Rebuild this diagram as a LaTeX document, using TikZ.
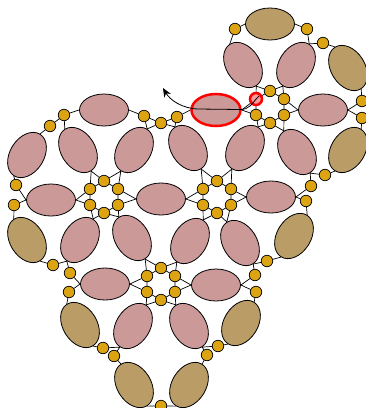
\documentclass[tikz,border=0pt]{standalone}
\usetikzlibrary{arrows.meta,shapes.geometric}
\definecolor{beadc}{RGB}{220,164,18}
\definecolor{pinkc}{RGB}{204,153,153}
\definecolor{tanc}{RGB}{185,156,102}
\tikzset{
 bead/.style={circle,draw=black,line width=0.7pt,fill=beadc,minimum size=11.5pt,inner sep=0pt},
 pel/.style={ellipse,draw=black,line width=0.8pt,fill=pinkc,minimum width=49pt,minimum height=32pt,inner sep=0pt},
 tel/.style={pel,fill=tanc},
 thread/.style={line width=0.7pt},
 fw/.style={rotate=58,minimum height=34pt}, bw/.style={rotate=-58,minimum height=34pt}
}
\newcommand\rosette[3]{%
 \node[bead] (#1t) at (#2,#3-16) {};
 \node[bead] (#1ur) at (#2+14,#3-8) {};
 \node[bead] (#1lr) at (#2+14,#3+8) {};
 \node[bead] (#1b) at (#2,#3+16) {};
 \node[bead] (#1ll) at (#2-14,#3+8) {};
 \node[bead] (#1ul) at (#2-14,#3-8) {};
 \draw[thread] (#1t)--(#1ur)--(#1lr)--(#1b)--(#1ll)--(#1ul)--(#1t);
}
\newcommand\rconn[7]{%
 \draw[thread] (#2.east)--(#1ul) (#2.east)--(#1ll)
  (#3.west)--(#1ur) (#3.west)--(#1lr)
  (#4.east)--(#1t) (#4.east)--(#1ul)
  (#5.west)--(#1t) (#5.west)--(#1ur)
  (#6.east)--(#1ll) (#6.east)--(#1b)
  (#7.west)--(#1lr) (#7.west)--(#1b);
}
\newcommand\pconn[3]{\draw[thread] (#1)--(#2) (#1)--(#3);}
\begin{document}
\begin{tikzpicture}[x=1pt,y=-1pt]
\useasboundingbox (0,0) rectangle (366,408);
\clip (0,0) rectangle (366,408);
% pink ellipses
\node[pel] (P1) at (104,110) {};
\node[pel,draw=red,line width=2.5pt] (P2) at (216,110) {};
\node[pel] (P3) at (323,110) {};
\node[pel,bw] (P4) at (243,65) {};
\node[pel,fw] (P5) at (296,65) {};
\node[pel,fw] (P6) at (27,155) {};
\node[pel,bw] (P7) at (78,150) {};
\node[pel,fw] (P8) at (134,150) {};
\node[pel,bw] (P9) at (188,148) {};
\node[pel,fw] (P10) at (245,148) {};
\node[pel,bw] (P11) at (297,152) {};
\node[pel] (P12) at (51,200) {};
\node[pel] (P13) at (161,199) {};
\node[pel] (P14) at (271,197) {};
\node[pel,fw] (P15) at (80,240) {};
\node[pel,bw] (P16) at (132,238) {};
\node[pel,fw] (P17) at (190,241) {};
\node[pel,bw] (P18) at (240,243) {};
\node[pel] (P19) at (105,284) {};
\node[pel] (P20) at (216,285) {};
\node[pel,fw] (P21) at (133,326) {};
\node[pel,bw] (P22) at (189,326) {};
% tan ellipses
\node[tel] (T1) at (270,24) {};
\node[tel,bw] (T2) at (348,68) {};
\node[tel,fw] (T3) at (348,150) {};
\node[tel,bw] (T4) at (27,240) {};
\node[tel,fw] (T5) at (294,236) {};
\node[tel,bw] (T6) at (80,325) {};
\node[tel,fw] (T7) at (241,323) {};
\node[tel,bw] (T8) at (134,385) {};
\node[tel,fw] (T9) at (189,385) {};
% rosettes
\rosette{Ra}{104}{197}
\rosette{Rb}{217}{197}
\rosette{Rc}{161}{284}
\rosette{Rd}{270}{107}
\rconn{Ra}{P12}{P13}{P7}{P8}{P15}{P16}
\rconn{Rb}{P13}{P14}{P9}{P10}{P17}{P18}
\rconn{Rc}{P19}{P20}{P16}{P17}{P21}{P22}
\rconn{Rd}{P2}{P3}{P4}{P5}{P10}{P11}
% outer beads
\foreach \n/\x/\y in {o1/64/115,o2/50/126,o3/144/116,o4/161/123,o5/177/117,
  o6/235/29,o7/307/29,o8/323/43,o9/362/101,o10/362/118,o11/325/175,o12/311/186,
  o13/306/201,o14/267/261,o15/255/275,o16/256/292,o17/218/346,o18/207/355,
  o19/161/406,o20/114/356,o21/103/348,o22/69/292,o23/70/273,o24/53/265,
  o25/14/205,o26/16/185}
  \node[bead] (\n) at (\x,\y) {};
\draw[thread] (o1)--(o2) (o3)--(o4)--(o5);
\draw[thread] (P1.west)--(o1) (P1.east)--(o3) (P2.west)--(o5);
\pconn{P3.east}{o9}{o10}
\draw[thread] (P4.west)--(o6);
\pconn{P5.east}{o7}{o8}
\draw[thread] (P6.east)--(o2) (P6.west)--(o26) (P7.west)--(o1);
\pconn{P8.east}{o3}{o4}
\pconn{P9.west}{o4}{o5}
\pconn{P11.east}{o11}{o12}
\pconn{P12.west}{o26}{o25}
\pconn{P14.east}{o12}{o13}
\pconn{P15.west}{o24}{o23}
\pconn{P18.east}{o14}{o15}
\pconn{P19.west}{o23}{o22}
\pconn{P20.east}{o15}{o16}
\pconn{P21.west}{o21}{o20}
\pconn{P22.east}{o18}{o17}
\draw[thread] (T1.west)--(o6) (T1.east)--(o7)
 (T2.west)--(o8) (T2.east)--(o9)
 (T3.east)--(o10) (T3.west)--(o11)
 (T4.west)--(o25) (T4.east)--(o24)
 (T5.east)--(o13) (T5.west)--(o14)
 (T6.west)--(o22) (T6.east)--(o21)
 (T7.east)--(o16) (T7.west)--(o17)
 (T8.west)--(o20) (T8.east)--(o19)
 (T9.east)--(o18) (T9.west)--(o19);
% highlight
\node[circle,draw=red,line width=2.5pt,fill=red!40!white,minimum size=12pt,inner sep=0pt] (hl) at (Rdul) {};
\coordinate (tip) at (163,88);
\draw[line width=0.8pt,-{Stealth[length=9pt,width=7.5pt]}] (259,96) .. controls (251,104) and (250,109.5) .. (240,109.5) -- (198,109) .. controls (182,108.5) and (170,100) .. (tip);
\end{tikzpicture}
\end{document}
